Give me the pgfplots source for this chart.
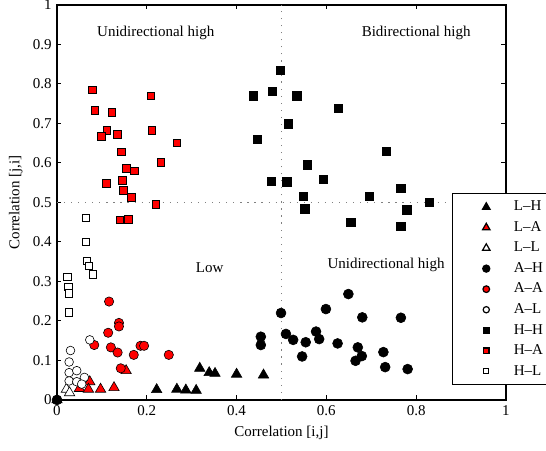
\documentclass[border=0pt]{standalone}
\usepackage{fontspec}
\setmainfont{Liberation Serif}
\usepackage{pgfplots}
\pgfplotsset{compat=1.18}
\usetikzlibrary{calc}

\pgfplotsset{
  pt/.style={only marks, mark options={line width=0.6pt, draw=black}},
}

\begin{document}
\begin{tikzpicture}
\begin{axis}[
    scale only axis,
    width=299.3pt, height=263.3pt,
    xmin=0, xmax=1, ymin=0, ymax=1,
    xtick={0,0.2,0.4,0.6,0.8,1},
    ytick={0,0.1,0.2,0.3,0.4,0.5,0.6,0.7,0.8,0.9,1},
    tick align=inside,
    major tick length=3pt,
    axis line style={line width=0.8pt},
    every tick/.style={black, line width=0.6pt},
    /pgf/number format/assume math mode=true,
    /pgf/number format/fixed,
    xlabel={Correlation [i,j]},
    ylabel={Correlation [j,i]},
    clip=false,
    legend cell align=left,
    legend style={at={(0.88,0.524)}, anchor=north west, draw=black,
        line width=0.8pt, fill=white, row sep=1.6pt, inner xsep=4pt, inner ysep=3pt},
    legend image code/.code={
        \path (0pt,0pt) (34pt,0pt);
        \draw[#1, every mark/.append style={scale=0.72}] plot coordinates {(18pt,0pt)};
    },
]

% quadrant dividers
\addplot[forget plot, gray, line width=0.8pt, dash pattern=on 0.8pt off 3.9pt] coordinates {(0.5,0) (0.5,1)};
\addplot[forget plot, gray, line width=0.8pt, dash pattern=on 0.8pt off 3.9pt] coordinates {(0,0.5) (1,0.5)};

% L-H
\addplot[pt, mark=triangle*, mark size=4pt, mark options={fill=black}] coordinates {
  (0,0) (0.222,0.026) (0.267,0.027) (0.287,0.025) (0.310,0.024) (0.318,0.080)
  (0.339,0.069) (0.352,0.067) (0.400,0.065) (0.460,0.063)
};
% L-A
\addplot[pt, mark=triangle*, mark size=4pt, mark options={fill=red}] coordinates {
  (0.073,0.046) (0.050,0.029) (0.070,0.027) (0.097,0.027) (0.127,0.031) (0.154,0.074)
};
% L-L
\addplot[pt, mark=triangle*, mark size=4pt, mark options={fill=white}] coordinates {
  (0.021,0.027) (0.028,0.018)
};
% A-H
\addplot[pt, mark=*, mark size=3.3pt, mark options={fill=black}] coordinates {
  (0,0) (0.454,0.160) (0.454,0.139) (0.499,0.220) (0.510,0.167) (0.526,0.152)
  (0.554,0.146) (0.546,0.110) (0.577,0.173) (0.584,0.154) (0.599,0.230)
  (0.625,0.143) (0.649,0.268) (0.670,0.133) (0.679,0.111) (0.665,0.099)
  (0.680,0.209) (0.727,0.121) (0.731,0.083) (0.766,0.208) (0.781,0.078)
};
% A-A
\addplot[pt, mark=*, mark size=3.1pt, mark options={fill=red}] coordinates {
  (0.116,0.249) (0.138,0.195) (0.138,0.186) (0.114,0.170) (0.083,0.139)
  (0.120,0.133) (0.135,0.120) (0.171,0.114) (0.186,0.137) (0.194,0.137)
  (0.249,0.114) (0.142,0.080)
};
% A-L
\addplot[pt, mark=*, mark size=2.9pt, mark options={fill=white}] coordinates {
  (0.073,0.152) (0.030,0.125) (0.027,0.096) (0.027,0.069) (0.044,0.074)
  (0.061,0.057) (0.027,0.048) (0.044,0.046) (0.055,0.040)
};
% H-H
\addplot[pt, mark=square*, mark size=2.8pt, mark options={fill=black}] coordinates {
  (0.437,0.770) (0.480,0.781) (0.498,0.834) (0.534,0.770) (0.446,0.660)
  (0.515,0.699) (0.627,0.738) (0.734,0.630) (0.558,0.595) (0.593,0.559)
  (0.477,0.554) (0.512,0.552) (0.549,0.515) (0.552,0.484) (0.696,0.516)
  (0.766,0.536) (0.829,0.500) (0.779,0.481) (0.654,0.449) (0.766,0.439)
};
% H-A
\addplot[pt, mark=square*, mark size=2.6pt, mark options={fill=red}] coordinates {
  (0.079,0.785) (0.209,0.770) (0.084,0.733) (0.122,0.729) (0.111,0.682)
  (0.211,0.682) (0.098,0.667) (0.134,0.673) (0.267,0.651) (0.144,0.628)
  (0.231,0.601) (0.155,0.587) (0.173,0.580) (0.146,0.556) (0.109,0.549)
  (0.148,0.530) (0.165,0.512) (0.140,0.456) (0.158,0.458) (0.220,0.496)
};
% H-L
\addplot[pt, mark=square*, mark size=2.4pt, mark options={fill=white}] coordinates {
  (0.065,0.461) (0.064,0.401) (0.066,0.353) (0.070,0.339) (0.080,0.318)
  (0.023,0.311) (0.025,0.287) (0.027,0.268) (0.027,0.270) (0.026,0.222)
};

\legend{L--H, L--A, L--L, A--H, A--A, A--L, H--H, H--A, H--L}

\node at (axis cs:0.22,0.93) {Unidirectional high};
\node at (axis cs:0.80,0.93) {Bidirectional high};
\node at (axis cs:0.34,0.334) {Low};
\node at (axis cs:0.733,0.342) {Unidirectional high};
\end{axis}
\pgfresetboundingbox
\path[use as bounding box] ($(current axis.south west)+(-38pt,-34pt)$) rectangle ($(current axis.north east)+(26.7pt,3.3pt)$);
\end{tikzpicture}
\end{document}
